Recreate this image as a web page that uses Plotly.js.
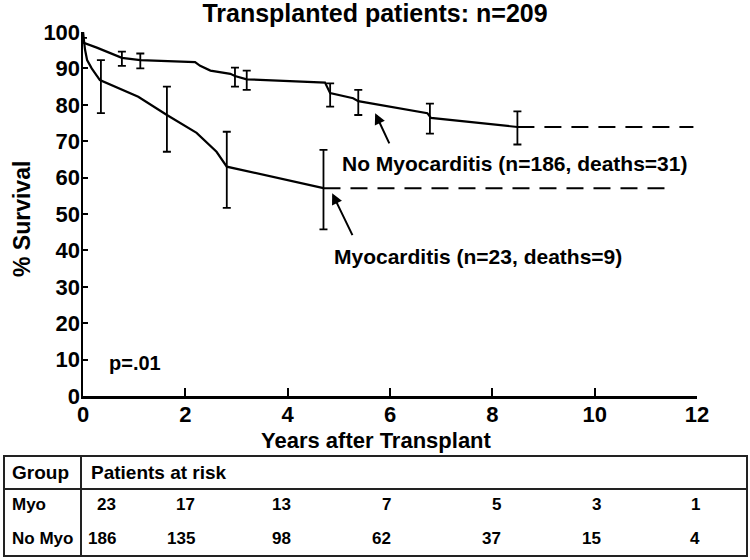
<!DOCTYPE html>
<html>
<head>
<meta charset="utf-8">
<script src="https://cdn.plot.ly/plotly-3.0.1.min.js"></script>
<style>html,body{margin:0;padding:0;background:#fff}#chart{width:750px;height:560px}</style>
</head>
<body>
<div id="chart"></div>
<script>
// ---- data ----
const noMyoYears = [0, 0, 0.27, 0.53, 0.76, 1.12, 2.19, 2.29, 2.49, 2.88, 2.97, 3.20, 4.73, 4.83, 5.28, 5.38, 6.73, 6.80, 8.49];
const noMyoSurv  = [100, 97.1, 95.7, 94.1, 92.9, 92.3, 91.7, 90.7, 89.4, 88.5, 87.9, 87.0, 86.1, 83.2, 81.8, 81.0, 77.7, 76.4, 73.9];
const myoYears = [0, 0.04, 0.08, 0.17, 0.33, 1.08, 1.64, 2.22, 2.61, 2.81, 4.70];
const myoSurv  = [100, 95.1, 92.3, 90.0, 86.8, 82.2, 77.2, 72.3, 67.1, 63.0, 57.1];

const noMyoTailYears = [8.49, 11.93];
const noMyoTailSurv  = [73.9, 73.9];
const myoTailYears = [4.70, 11.42];
const myoTailSurv  = [57.1, 57.1];

const noMyoErrX  = [0.76, 1.12, 2.97, 3.20, 4.83, 5.38, 6.78, 8.49];
const noMyoErrY  = [92.9, 92.3, 87.9, 87.0, 83.2, 81.0, 76.6, 73.9];
const noMyoErrHi = [94.6, 94.1, 90.2, 89.4, 85.9, 84.1, 80.3, 78.2];
const noMyoErrLo = [90.7, 90.0, 85.0, 84.1, 79.5, 77.2, 72.1, 69.1];

const myoErrX  = [0.35, 1.64, 2.81, 4.70];
const myoErrY  = [86.5, 77.2, 63.0, 57.1];
const myoErrHi = [92.3, 85.0, 72.6, 67.6];
const myoErrLo = [77.7, 67.1, 51.7, 45.8];

const startErrX  = [0];
const startErrY  = [99.4];
const startErrHi = [100.4];
const startErrLo = [98.4];

const xTicks = [0, 2, 4, 6, 8, 10, 12];
const yTicks = [0, 10, 20, 30, 40, 50, 60, 70, 80, 90, 100];

const groups = ['Myo', 'No Myo'];
const myoAtRisk   = [23, 17, 13, 7, 5, 3, 1];
const noMyoAtRisk = [186, 135, 98, 62, 37, 15, 4];

const titleText = 'Transplanted patients: n=209';
const noMyoLabel = 'No Myocarditis (n=186, deaths=31)';
const myoLabel = 'Myocarditis (n=23, deaths=9)';
const pText = 'p=.01';

// ---- layout helpers ----
const L = 83, R = 697, T = 32, B = 396;
const px = p => (p - L) / (R - L);
const py = p => (B - p) / (B - T);
const FONT = 'Liberation Sans, Arial, Helvetica, sans-serif';
const INK = '#000';

function errTrace(x, y, hi, lo, clip) {
  return {
    x: x, y: y, type: 'scatter', mode: 'markers',
    marker: {size: 1, color: 'rgba(0,0,0,0)'},
    cliponaxis: clip,
    hoverinfo: 'skip', showlegend: false,
    error_y: {
      type: 'data', symmetric: false,
      array: hi.map((h, i) => h - y[i]),
      arrayminus: lo.map((l, i) => y[i] - l),
      color: INK, thickness: 1.8, width: 4
    }
  };
}

const traces = [
  {x: noMyoYears, y: noMyoSurv, type: 'scatter', mode: 'lines', line: {color: INK, width: 2.2}, showlegend: false, cliponaxis: false},
  {x: myoYears, y: myoSurv, type: 'scatter', mode: 'lines', line: {color: INK, width: 2.2}, showlegend: false, cliponaxis: false},
  {x: noMyoTailYears, y: noMyoTailSurv, type: 'scatter', mode: 'lines', line: {color: INK, width: 2, dash: '17px,10px'}, showlegend: false},
  {x: myoTailYears, y: myoTailSurv, type: 'scatter', mode: 'lines', line: {color: INK, width: 2, dash: '17px,10px'}, showlegend: false},
  errTrace(noMyoErrX, noMyoErrY, noMyoErrHi, noMyoErrLo, true),
  errTrace(myoErrX, myoErrY, myoErrHi, myoErrLo, true),
  errTrace(startErrX, startErrY, startErrHi, startErrLo, false)
];

const annotations = [
  {xref: 'paper', yref: 'paper', x: px(376), y: py(440), text: 'Years after Transplant', showarrow: false,
   xanchor: 'center', yanchor: 'middle', font: {family: FONT, size: 22, color: INK, weight: 'bold'}},
  {xref: 'paper', yref: 'paper', x: px(22), y: py(219), text: '% Survival', showarrow: false, textangle: -90,
   xanchor: 'center', yanchor: 'middle', font: {family: FONT, size: 23, color: INK, weight: 'bold'}},
  {xref: 'x', yref: 'y', x: 5.03, y: 64.0, text: noMyoLabel, showarrow: false, xanchor: 'left', yanchor: 'middle',
   font: {family: FONT, size: 21, color: INK, weight: 'bold'}},
  {xref: 'x', yref: 'y', x: 4.87, y: 38.3, text: myoLabel, showarrow: false, xanchor: 'left', yanchor: 'middle',
   font: {family: FONT, size: 21, color: INK, weight: 'bold'}},
  {xref: 'x', yref: 'y', x: 0.46, y: 9.0, text: pText, showarrow: false, xanchor: 'left', yanchor: 'middle',
   font: {family: FONT, size: 20, color: INK, weight: 'bold'}},
  {xref: 'x', yref: 'y', x: 5.71, y: 77.7, axref: 'x', ayref: 'y', ax: 6.0, ay: 69.0, text: '', showarrow: true,
   arrowhead: 2, arrowsize: 1.1, arrowwidth: 2, arrowcolor: INK, standoff: 0, startstandoff: 0},
  {xref: 'x', yref: 'y', x: 4.87, y: 55.7, axref: 'x', ayref: 'y', ax: 5.28, ay: 43.8, text: '', showarrow: true,
   arrowhead: 2, arrowsize: 1.1, arrowwidth: 2, arrowcolor: INK, standoff: 0, startstandoff: 0},
  // table header
  {xref: 'paper', yref: 'paper', x: px(10), y: py(473), text: 'Group', showarrow: false, xanchor: 'left', yanchor: 'middle',
   font: {family: FONT, size: 19, color: INK, weight: 'bold'}},
  {xref: 'paper', yref: 'paper', x: px(89), y: py(473), text: 'Patients at risk', showarrow: false, xanchor: 'left', yanchor: 'middle',
   font: {family: FONT, size: 19, color: INK, weight: 'bold'}}
];

const rowY = [504, 538];
const colRight = [118, 197, 293, 393, 503, 603, 702];
const rows = [myoAtRisk, noMyoAtRisk];
groups.forEach((g, r) => {
  annotations.push({xref: 'paper', yref: 'paper', x: px(10), y: py(rowY[r]), text: g, showarrow: false,
    xanchor: 'left', yanchor: 'middle', font: {family: FONT, size: 17, color: INK, weight: 'bold'}});
  rows[r].forEach((v, c) => {
    annotations.push({xref: 'paper', yref: 'paper', x: px(colRight[c]), y: py(rowY[r]), text: String(v), showarrow: false,
      xanchor: 'right', yanchor: 'middle', font: {family: FONT, size: 17, color: INK, weight: 'bold'}});
  });
});

const tableLine = {color: '#222', width: 2};
const shapes = [
  {type: 'rect', xref: 'paper', yref: 'paper', x0: px(4), x1: px(747), y0: py(456), y1: py(556), line: tableLine},
  {type: 'line', xref: 'paper', yref: 'paper', x0: px(4), x1: px(747), y0: py(489), y1: py(489), line: tableLine},
  {type: 'line', xref: 'paper', yref: 'paper', x0: px(81), x1: px(81), y0: py(456), y1: py(556), line: tableLine}
];

const layout = {
  width: 750, height: 560,
  margin: {l: L, r: 750 - R, t: T, b: 560 - B, pad: 0},
  paper_bgcolor: '#fff', plot_bgcolor: '#fff',
  font: {family: FONT, color: INK},
  title: {text: titleText, x: 0.5, xref: 'container', xanchor: 'center', y: 1 - 13 / 560, yref: 'container', yanchor: 'middle',
          font: {family: FONT, size: 25, color: INK, weight: 'bold'}},
  showlegend: false,
  xaxis: {range: [0, 12], tickvals: xTicks, ticktext: xTicks.map(String), showgrid: false, zeroline: false,
          showline: true, linecolor: INK, linewidth: 2.5, ticks: 'inside', ticklen: 8, tickwidth: 2, tickcolor: INK,
          ticklabelstandoff: -3,
          tickfont: {family: FONT, size: 22, color: INK, weight: 'bold'}, fixedrange: true},
  yaxis: {range: [0, 100], tickvals: yTicks, ticktext: yTicks.map(String), showgrid: false, zeroline: false,
          showline: true, linecolor: INK, linewidth: 2.5, ticks: 'inside', ticklen: 5, tickwidth: 2, tickcolor: INK,
          ticklabelstandoff: -4,
          tickfont: {family: FONT, size: 22, color: INK, weight: 'bold'}, fixedrange: true},
  annotations: annotations,
  shapes: shapes
};

Plotly.newPlot('chart', traces, layout, {staticPlot: true, displayModeBar: false});
</script>
</body>
</html>
